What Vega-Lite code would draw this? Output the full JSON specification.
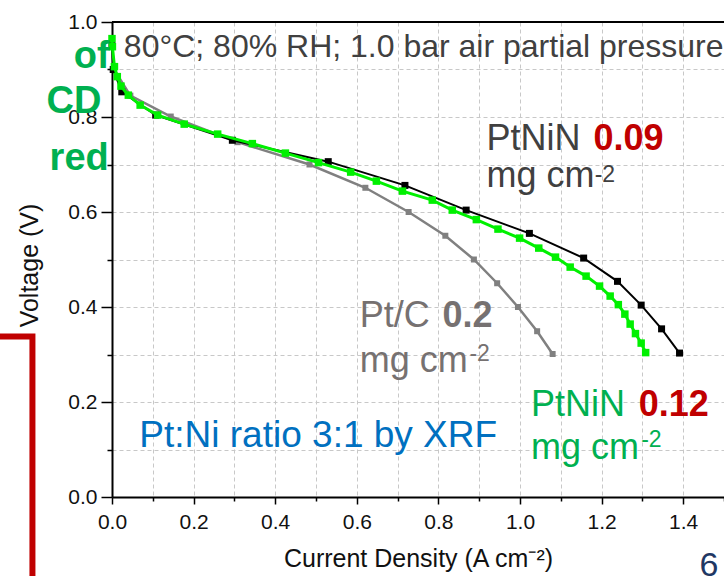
{
  "$schema": "https://vega.github.io/schema/vega-lite/v6.json",
  "width": 612,
  "height": 475,
  "autosize": {"type": "none"},
  "padding": {"left": 112, "top": 22, "right": 0, "bottom": 79},
  "background": "white",
  "config": {"view": {"stroke": null}, "font": "Liberation Sans"},
  "datasets": {
    "curves": [
      {"s": "PtC", "x": 0.0, "y": 0.95}, {"s": "PtC", "x": 0.005, "y": 0.9}, {"s": "PtC", "x": 0.045, "y": 0.845},
      {"s": "PtC", "x": 0.144, "y": 0.801}, {"s": "PtC", "x": 0.308, "y": 0.747}, {"s": "PtC", "x": 0.484, "y": 0.7},
      {"s": "PtC", "x": 0.621, "y": 0.651}, {"s": "PtC", "x": 0.727, "y": 0.6}, {"s": "PtC", "x": 0.817, "y": 0.55},
      {"s": "PtC", "x": 0.887, "y": 0.5}, {"s": "PtC", "x": 0.944, "y": 0.45}, {"s": "PtC", "x": 0.995, "y": 0.4},
      {"s": "PtC", "x": 1.042, "y": 0.349}, {"s": "PtC", "x": 1.08, "y": 0.301},
      {"s": "N09", "x": 0.0, "y": 0.95}, {"s": "N09", "x": 0.003, "y": 0.9}, {"s": "N09", "x": 0.024, "y": 0.853},
      {"s": "N09", "x": 0.107, "y": 0.804}, {"s": "N09", "x": 0.295, "y": 0.751}, {"s": "N09", "x": 0.53, "y": 0.706},
      {"s": "N09", "x": 0.718, "y": 0.656}, {"s": "N09", "x": 0.868, "y": 0.604}, {"s": "N09", "x": 1.023, "y": 0.555},
      {"s": "N09", "x": 1.156, "y": 0.503}, {"s": "N09", "x": 1.239, "y": 0.454}, {"s": "N09", "x": 1.297, "y": 0.404},
      {"s": "N09", "x": 1.347, "y": 0.354}, {"s": "N09", "x": 1.391, "y": 0.303},
      {"s": "N12", "x": 0.0, "y": 0.965}, {"s": "N12", "x": 0.001, "y": 0.948}, {"s": "N12", "x": 0.006, "y": 0.906},
      {"s": "N12", "x": 0.013, "y": 0.885}, {"s": "N12", "x": 0.022, "y": 0.865}, {"s": "N12", "x": 0.04, "y": 0.846},
      {"s": "N12", "x": 0.069, "y": 0.825}, {"s": "N12", "x": 0.112, "y": 0.804}, {"s": "N12", "x": 0.177, "y": 0.785},
      {"s": "N12", "x": 0.259, "y": 0.764}, {"s": "N12", "x": 0.344, "y": 0.744}, {"s": "N12", "x": 0.425, "y": 0.724},
      {"s": "N12", "x": 0.506, "y": 0.704}, {"s": "N12", "x": 0.585, "y": 0.684}, {"s": "N12", "x": 0.648, "y": 0.665},
      {"s": "N12", "x": 0.712, "y": 0.644}, {"s": "N12", "x": 0.785, "y": 0.625}, {"s": "N12", "x": 0.834, "y": 0.604},
      {"s": "N12", "x": 0.893, "y": 0.584}, {"s": "N12", "x": 0.946, "y": 0.564}, {"s": "N12", "x": 0.999, "y": 0.545},
      {"s": "N12", "x": 1.046, "y": 0.524}, {"s": "N12", "x": 1.087, "y": 0.505}, {"s": "N12", "x": 1.123, "y": 0.484},
      {"s": "N12", "x": 1.162, "y": 0.465}, {"s": "N12", "x": 1.195, "y": 0.444}, {"s": "N12", "x": 1.221, "y": 0.423},
      {"s": "N12", "x": 1.241, "y": 0.405}, {"s": "N12", "x": 1.257, "y": 0.385}, {"s": "N12", "x": 1.27, "y": 0.364},
      {"s": "N12", "x": 1.283, "y": 0.344}, {"s": "N12", "x": 1.297, "y": 0.324}, {"s": "N12", "x": 1.308, "y": 0.304}
    ]
  },
  "encoding": {
    "x": {
      "field": "x", "type": "quantitative",
      "scale": {"domain": [0, 1.5], "nice": false, "zero": false},
      "axis": {
        "title": "Current Density (A cm⁻²)",
        "values": [0, 0.1, 0.2, 0.3, 0.4, 0.5, 0.6, 0.7, 0.8, 0.9, 1.0, 1.1, 1.2, 1.3, 1.4, 1.5],
        "format": ".1f",
        "labelExpr": "(round(datum.value*10)%2==0 && datum.value<1.45) ? datum.label : ''",
        "tickSize": {"condition": {"test": "round(datum.value*10)%2==0", "value": 7}, "value": 4},
        "grid": true, "gridDash": [4, 3], "gridColor": "#C8C8C8", "gridWidth": 1,
        "domainColor": "#000000", "domainWidth": 2, "tickColor": "#000000", "tickWidth": 1.5,
        "labelFontSize": 21, "labelColor": "#111111", "labelPadding": 7, "labelFlush": false, "labelOverlap": false,
        "titleFontSize": 25, "titleFontWeight": "normal", "titleColor": "#111111", "titlePadding": 14
      }
    },
    "y": {
      "field": "y", "type": "quantitative",
      "scale": {"domain": [0, 1], "nice": false, "zero": false},
      "axis": {
        "title": "Voltage (V)",
        "values": [0, 0.1, 0.2, 0.3, 0.4, 0.5, 0.6, 0.7, 0.8, 0.9, 1.0],
        "format": ".1f",
        "labelExpr": "round(datum.value*10)%2==0 ? datum.label : ''",
        "tickSize": {"condition": {"test": "round(datum.value*10)%2==0", "value": 11}, "value": 5},
        "grid": true, "gridDash": [4, 3], "gridColor": "#C8C8C8", "gridWidth": 1,
        "domainColor": "#000000", "domainWidth": 2, "tickColor": "#000000", "tickWidth": 1.5,
        "labelFontSize": 21, "labelColor": "#111111", "labelPadding": 4, "labelFlush": false, "labelOverlap": false,
        "titleFontSize": 25, "titleFontWeight": "normal", "titleColor": "#111111", "titlePadding": 25, "titleY": 243
      }
    }
  },
  "layer": [
    {
      "data": {"values": [{"x": 0, "y": 1}, {"x": 1.5, "y": 1}]},
      "mark": {"type": "line", "color": "#000000", "strokeWidth": 2},
      "encoding": {}
    },
    {
      "data": {"name": "curves"},
      "transform": [{"filter": "datum.s == 'PtC'"}],
      "mark": {"type": "line", "color": "#808080", "strokeWidth": 2.5, "point": {"shape": "square", "filled": true, "size": 36, "color": "#808080"}},
      "encoding": {}
    },
    {
      "data": {"name": "curves"},
      "transform": [{"filter": "datum.s == 'N09'"}],
      "mark": {"type": "line", "color": "#000000", "strokeWidth": 2, "point": {"shape": "square", "filled": true, "size": 49, "color": "#000000"}},
      "encoding": {}
    },
    {
      "data": {"name": "curves"},
      "transform": [{"filter": "datum.s == 'N12'"}],
      "mark": {"type": "line", "color": "#00F000", "strokeWidth": 3, "point": {"shape": "square", "filled": true, "size": 56, "color": "#00F000"}},
      "encoding": {}
    },
    {
      "data": {"values": [{"x": -0.3, "y": 0.338, "k": 1}, {"x": -0.195, "y": 0.338, "k": 2}, {"x": -0.195, "y": -0.2, "k": 3}]},
      "mark": {"type": "line", "color": "#C00000", "strokeWidth": 6, "strokeJoin": "miter"},
      "encoding": {"order": {"field": "k"}}
    },
    {
      "data": {"values": [{"x": 0.029, "y": 0.9265, "t": "80°C; 80% RH; 1.0 bar air partial pressure"}]},
      "mark": {"type": "text", "align": "left", "baseline": "alphabetic", "fontSize": 32, "color": "#404040"},
      "encoding": {"text": {"field": "t"}}
    },
    {
      "data": {"values": [{"x": 0.918, "y": 0.731, "t": "PtNiN"}, {"x": 0.918, "y": 0.652, "t": "mg cm"}]},
      "mark": {"type": "text", "align": "left", "baseline": "alphabetic", "fontSize": 36, "color": "#404040"},
      "encoding": {"text": {"field": "t"}}
    },
    {
      "data": {"values": [{"x": 1.183, "y": 0.664, "t": "-2"}]},
      "mark": {"type": "text", "align": "left", "baseline": "alphabetic", "fontSize": 23, "color": "#404040"},
      "encoding": {"text": {"field": "t"}}
    },
    {
      "data": {"values": [{"x": 1.18, "y": 0.731, "t": "0.09"}, {"x": 1.291, "y": 0.17, "t": "0.12"}]},
      "mark": {"type": "text", "align": "left", "baseline": "alphabetic", "fontSize": 36, "fontWeight": "bold", "color": "#C00000"},
      "encoding": {"text": {"field": "t"}}
    },
    {
      "data": {"values": [{"x": 0.607, "y": 0.357, "t": "Pt/C"}, {"x": 0.607, "y": 0.263, "t": "mg cm"}]},
      "mark": {"type": "text", "align": "left", "baseline": "alphabetic", "fontSize": 36, "color": "#767171"},
      "encoding": {"text": {"field": "t"}}
    },
    {
      "data": {"values": [{"x": 0.81, "y": 0.357, "t": "0.2"}]},
      "mark": {"type": "text", "align": "left", "baseline": "alphabetic", "fontSize": 36, "fontWeight": "bold", "color": "#767171"},
      "encoding": {"text": {"field": "t"}}
    },
    {
      "data": {"values": [{"x": 0.876, "y": 0.286, "t": "-2"}]},
      "mark": {"type": "text", "align": "left", "baseline": "alphabetic", "fontSize": 23, "color": "#767171"},
      "encoding": {"text": {"field": "t"}}
    },
    {
      "data": {"values": [{"x": 1.027, "y": 0.17, "t": "PtNiN"}, {"x": 1.027, "y": 0.081, "t": "mg cm"}]},
      "mark": {"type": "text", "align": "left", "baseline": "alphabetic", "fontSize": 36, "color": "#00B050"},
      "encoding": {"text": {"field": "t"}}
    },
    {
      "data": {"values": [{"x": 1.297, "y": 0.105, "t": "-2"}]},
      "mark": {"type": "text", "align": "left", "baseline": "alphabetic", "fontSize": 23, "color": "#00B050"},
      "encoding": {"text": {"field": "t"}}
    },
    {
      "data": {"values": [{"x": 0.067, "y": 0.105, "t": "Pt:Ni ratio 3:1 by XRF"}]},
      "mark": {"type": "text", "align": "left", "baseline": "alphabetic", "fontSize": 37, "color": "#0070C0"},
      "encoding": {"text": {"field": "t"}}
    },
    {
      "data": {"values": [{"x": -0.006, "y": 0.903, "t": "of"}, {"x": -0.026, "y": 0.808, "t": "CD"}, {"x": -0.008, "y": 0.688, "t": "red"}]},
      "mark": {"type": "text", "align": "right", "baseline": "alphabetic", "fontSize": 38, "fontWeight": "bold", "color": "#00B050"},
      "encoding": {"text": {"field": "t"}}
    },
    {
      "data": {"values": [{"x": 1.44, "y": -0.166, "t": "6"}]},
      "mark": {"type": "text", "align": "left", "baseline": "alphabetic", "fontSize": 34, "color": "#1F3864"},
      "encoding": {"text": {"field": "t"}}
    }
  ]
}
